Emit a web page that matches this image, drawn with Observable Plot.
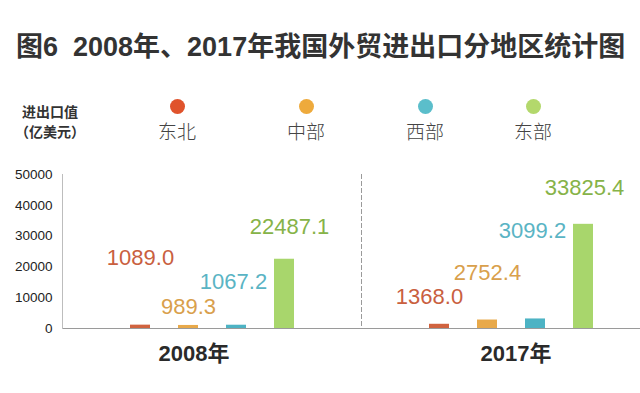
<!DOCTYPE html>
<html><head><meta charset="utf-8">
<script src="https://cdn.jsdelivr.net/npm/d3@7"></script>
<script src="https://cdn.jsdelivr.net/npm/@observablehq/plot@0.6"></script>
<style>
body{margin:0;background:#fff;width:640px;height:393px;overflow:hidden;font-family:"Liberation Sans","Noto Sans CJK SC",sans-serif;}
#head{position:relative;height:160px;}
.title{position:absolute;left:16px;top:32px;line-height:30px;font-size:27px;font-weight:bold;color:#333;white-space:pre;font-family:"Liberation Sans","Noto Sans CJK SC",sans-serif;}
.unit{position:absolute;left:12px;width:76px;text-align:center;font-size:14px;font-weight:bold;color:#333;line-height:20px;font-family:"Noto Sans CJK SC",sans-serif;}
.dot{position:absolute;width:15px;height:15px;border-radius:50%;}
.lg{position:absolute;width:60px;text-align:center;font-size:19px;font-weight:300;color:#444;line-height:24px;font-family:"Noto Sans CJK SC",sans-serif;}
</style></head><body>
<div id="head"></div><div id="chart"></div>
<script>
// ---- data ----
const title = "图6  2008年、2017年我国外贸进出口分地区统计图";
const unitLabel = ["进出口值", "（亿美元）"];
const years = ["2008年", "2017年"];
const regions = ["东北", "中部", "西部", "东部"];
const values2008 = [1089.0, 989.3, 1067.2, 22487.1];
const values2017 = [1368.0, 2752.4, 3099.2, 33825.4];
const yTicks = [0, 10000, 20000, 30000, 40000, 50000];

// ---- styles / layout ----
const barColors = ["#d0633f", "#e8a94a", "#4db3c4", "#a8d66c"];
const textColors = ["#c9603f", "#d9a04c", "#5ab4c4", "#86b348"];
const dotColors = ["#e0532c", "#eeaa3c", "#5bbecb", "#b3d86c"];
const legendX = [177, 306, 425, 533];
const labelDy = [-67, -18, -43, -32, -27, -47, -88, -36];
const labelDx = [0, 0, -3, 5, -10, 0, -3, 1];
const yearDx = [-18, 5];

// ---- header (title + legend) ----
const head = d3.select("#head");
head.append("div").attr("class", "title").text(title);
head.append("div").attr("class", "unit").style("top", "101px").text(unitLabel[0]);
head.append("div").attr("class", "unit").style("top", "121px").text(unitLabel[1]);
regions.forEach((r, i) => {
  head.append("div").attr("class", "dot")
    .style("left", (legendX[i] - 7.5) + "px").style("top", (106 - 7.5) + "px")
    .style("background", dotColors[i]);
  head.append("div").attr("class", "lg")
    .style("left", (legendX[i] - 30) + "px").style("top", (131 - 12) + "px")
    .text(r);
});

// ---- table ----
const table = [];
years.forEach((yr, j) => {
  const vals = j === 0 ? values2008 : values2017;
  regions.forEach((r, i) => table.push({year: yr, region: r, value: vals[i], idx: i}));
});

const font = "'Liberation Sans', 'Noto Sans CJK SC', sans-serif";

const valueLabels = table.map((d, k) => Plot.text([d], {
  fx: "year", x: "region", y: "value",
  text: v => v.value.toFixed(1),
  dy: labelDy[k], dx: labelDx[k],
  fill: textColors[d.idx], fontSize: 22, fontFamily: font
}));

const yearLabels = years.map((yr, j) => Plot.text([yr], {
  fx: v => v, frameAnchor: "bottom", text: v => v,
  dy: 32, dx: yearDx[j], fontSize: 22, fontWeight: "bold", fill: "#2a2a2a", fontFamily: font
}));

const chart = Plot.plot({
  width: 640, height: 233,
  marginTop: 14, marginBottom: 65, marginLeft: 62, marginRight: 0,
  style: {fontFamily: font, background: "#fff", overflow: "hidden"},
  fx: {domain: years, range: [62, 660], padding: 0, axis: null, label: null},
  x: {domain: regions, paddingInner: 0.59, paddingOuter: 1.35, axis: null},
  y: {domain: [0, 50000], axis: null},
  color: {domain: regions, range: barColors},
  marks: [
    Plot.barY(table, {fx: "year", x: "region", y: "value", fill: "region"}),
    Plot.ruleY([0], {stroke: "#9a9a9a", strokeWidth: 1}),
    Plot.frame({anchor: "left", fx: [years[0]], stroke: "#bdbdbd"}),
    Plot.frame({anchor: "left", fx: [years[1]], stroke: "#9a9a9a", strokeDasharray: "4,3"}),
    Plot.axisY({ticks: yTicks, tickSize: 0, tickPadding: 10, fontSize: 13.5, label: null,
      tickFormat: d => String(d), fill: "#222"}),
    ...valueLabels,
    ...yearLabels
  ]
});
document.getElementById("chart").append(chart);
</script>
</body></html>
